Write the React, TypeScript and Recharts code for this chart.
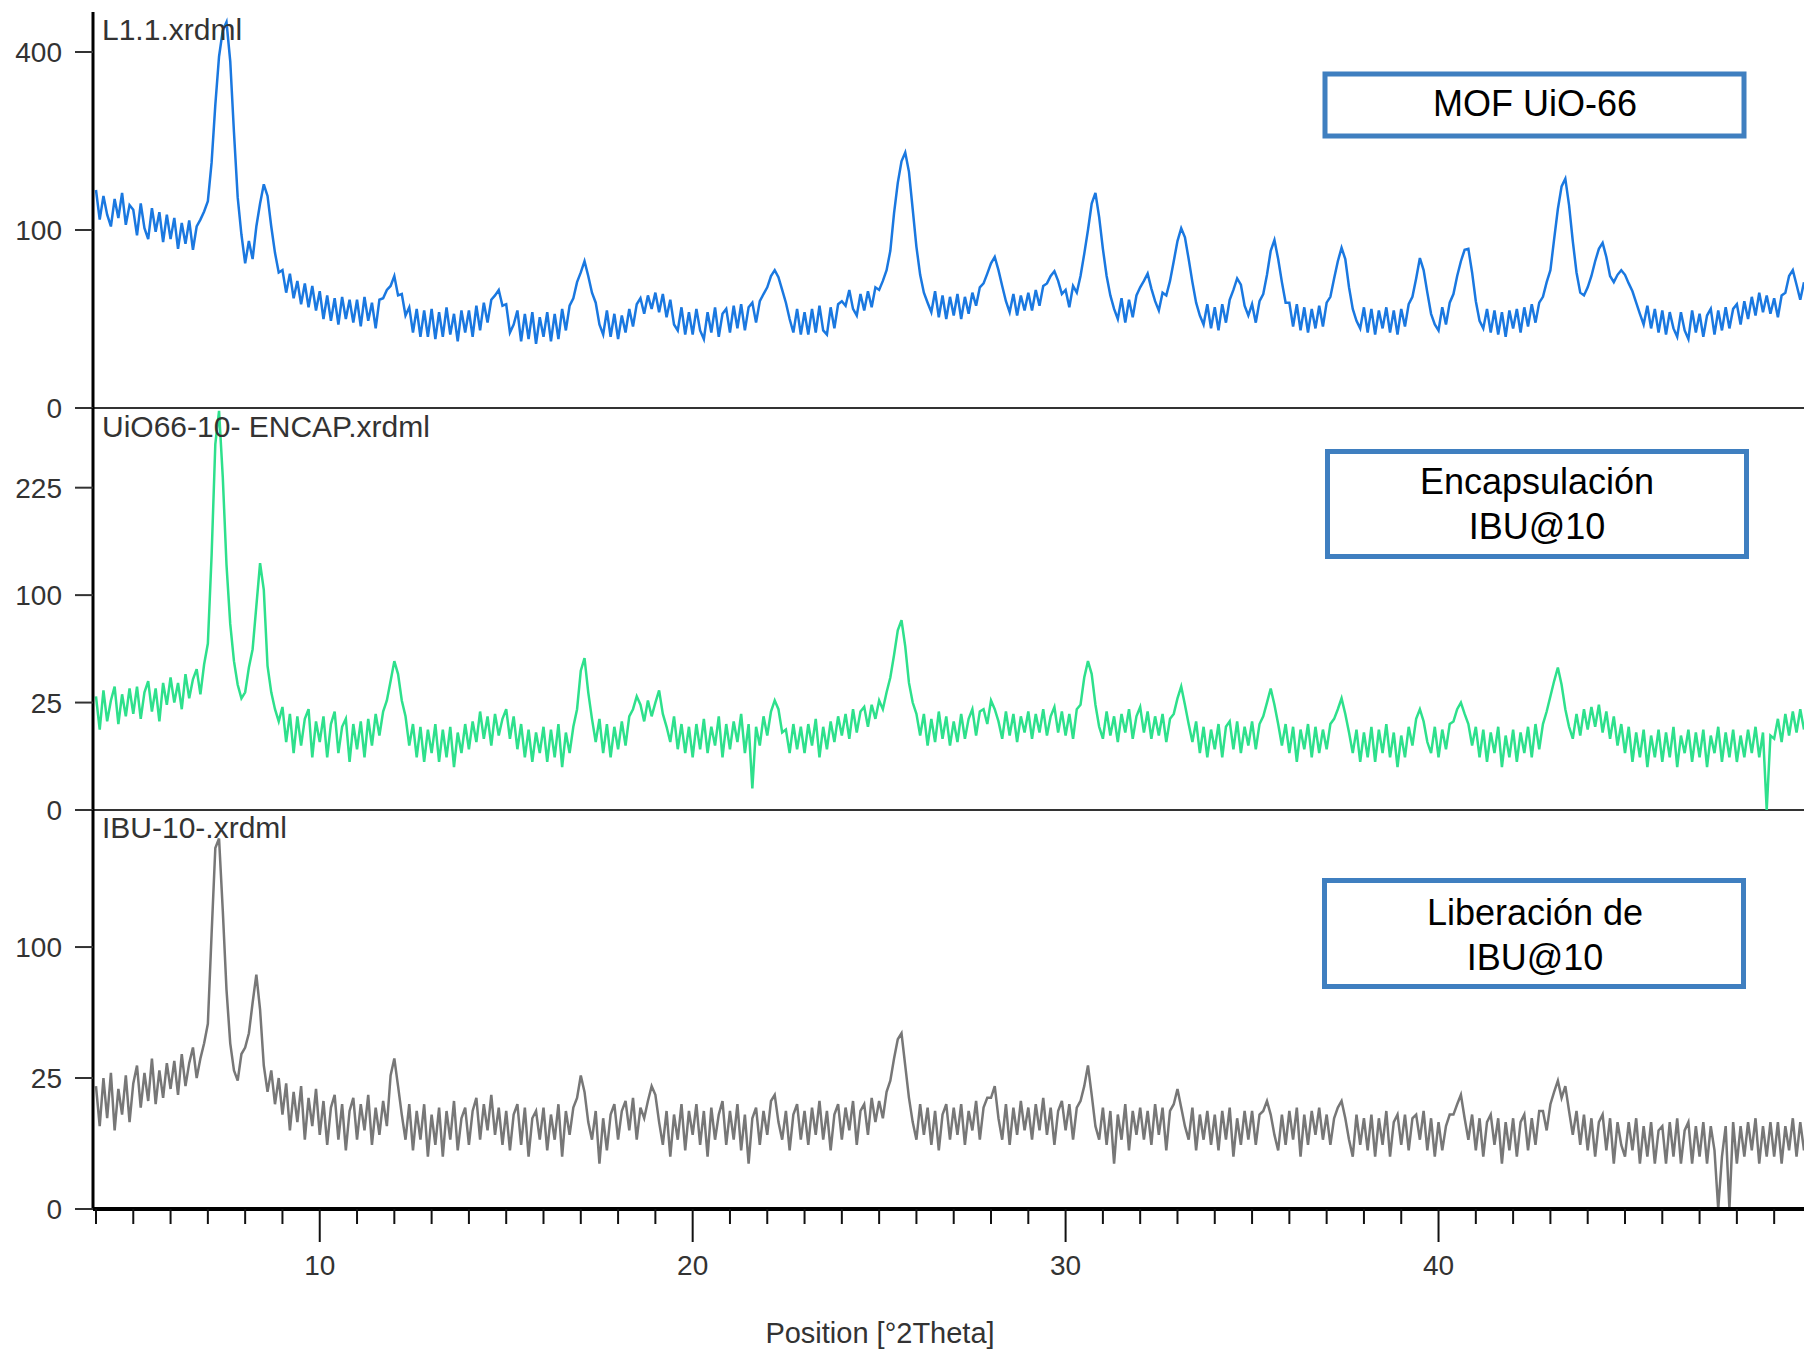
import React from 'react';
import { LineChart, Line, XAxis, YAxis, ReferenceLine } from 'recharts';

// scan settings (fixed step, as exported from the diffractometer)
const START_2THETA = 4.0;
const STEP_2THETA = 0.1;
const X_DOMAIN: [number, number] = [3.92, 49.8];
const X_TICKS = [4, 5, 6, 7, 8, 9, 10, 11, 12, 13, 14, 15, 16, 17, 18, 19, 20, 21, 22, 23, 24, 25, 26, 27, 28, 29, 30, 31, 32, 33, 34, 35, 36, 37, 38, 39, 40, 41, 42, 43, 44, 45, 46, 47, 48, 49];

// counts, one row per degree
const mofCounts = [
  150, 112, 142, 118, 104, 138, 114, 146, 106, 130,
  124, 94, 132, 102, 90, 126, 98, 121, 87, 118,
  90, 114, 80, 108, 85, 111, 79, 104, 112, 122,
  135, 190, 290, 390, 450, 470, 380, 240, 140, 95,
  66, 88, 70, 104, 132, 158, 142, 104, 76, 58,
  60, 42, 57, 38, 51, 34, 49, 32, 47, 30,
  43, 25, 40, 24, 38, 22, 39, 25, 37, 23,
  37, 21, 39, 24, 35, 20, 37, 38, 44, 47,
  55, 40, 41, 27, 32, 18, 31, 16, 30, 16,
  31, 15, 29, 16, 32, 17, 28, 14, 30, 18,
  30, 16, 33, 19, 35, 23, 37, 40, 44, 33,
  34, 18, 22, 30, 14, 28, 15, 29, 13, 26,
  16, 29, 14, 28, 15, 31, 19, 33, 38, 50,
  58, 68, 55, 42, 35, 22, 17, 30, 16, 28,
  15, 27, 18, 31, 21, 34, 38, 28, 40, 31,
  42, 29, 41, 26, 37, 22, 19, 32, 17, 29,
  17, 31, 19, 15, 29, 18, 32, 16, 28, 31,
  18, 33, 20, 34, 19, 32, 35, 23, 36, 41,
  46, 55, 60, 54, 44, 35, 25, 18, 31, 17,
  29, 17, 31, 18, 33, 19, 17, 32, 20, 34,
  36, 33, 44, 31, 27, 41, 30, 43, 32, 46,
  44, 51, 60, 78, 120, 160, 192, 206, 176, 125,
  82, 56, 42, 35, 29, 43, 26, 40, 25, 39,
  27, 41, 25, 39, 28, 42, 33, 46, 49, 57,
  66, 72, 60, 47, 36, 29, 41, 27, 40, 30,
  42, 30, 44, 33, 47, 49, 55, 59, 51, 41,
  44, 32, 47, 42, 55, 75, 100, 132, 146, 115,
  80, 55, 40, 31, 25, 38, 23, 37, 26, 40,
  46, 51, 57, 45, 36, 30, 42, 40, 51, 68,
  88, 102, 92, 70, 50, 35, 27, 22, 34, 20,
  32, 19, 34, 23, 37, 44, 53, 48, 33, 27,
  34, 23, 36, 41, 56, 78, 89, 70, 50, 35,
  35, 21, 34, 19, 32, 18, 31, 20, 33, 21,
  35, 39, 53, 68, 81, 70, 46, 31, 24, 20,
  32, 18, 31, 17, 30, 20, 32, 18, 30, 17,
  31, 21, 34, 39, 53, 71, 60, 42, 28, 22,
  19, 32, 22, 35, 41, 55, 68, 79, 80, 58,
  36, 24, 20, 31, 18, 30, 17, 29, 16, 30,
  20, 31, 18, 32, 21, 34, 23, 35, 39, 50,
  60, 90, 125, 155, 166, 130, 88, 58, 42, 40,
  46, 55, 68, 80, 86, 72, 55, 50, 56, 60,
  56, 49, 43, 35, 28, 22, 33, 20, 31, 18,
  30, 17, 29, 20, 16, 29, 19, 15, 30, 18,
  28, 16, 27, 31, 17, 30, 19, 32, 20, 31,
  34, 22, 36, 25, 39, 27, 42, 29, 40, 28,
  38, 26, 40, 42, 55, 60, 48, 37, 50,
];

const encapCounts = [
  28, 14, 31, 17, 26, 33, 16, 29, 19, 32,
  20, 33, 18, 30, 36, 21, 32, 17, 35, 24,
  38, 25, 35, 22, 40, 27, 37, 43, 29, 46,
  60, 140, 290, 345, 240, 130, 75, 48, 34, 27,
  30, 44, 56, 90, 132, 105, 45, 30, 22, 17,
  23, 10, 20, 7, 19, 9, 18, 22, 6, 17,
  10, 19, 6, 16, 21, 7, 15, 18, 5, 16,
  8, 17, 6, 18, 9, 20, 12, 21, 26, 36,
  48, 40, 26, 19, 9, 16, 6, 15, 5, 14,
  7, 16, 5, 14, 6, 15, 4, 13, 7, 16,
  8, 17, 10, 21, 11, 19, 9, 20, 12, 18,
  22, 11, 19, 8, 16, 6, 14, 5, 13, 7,
  15, 5, 14, 6, 16, 4, 13, 7, 15, 22,
  42, 50, 30, 18, 10, 18, 7, 16, 6, 15,
  8, 17, 9, 19, 22, 28, 24, 17, 26, 19,
  25, 31, 20, 15, 10, 19, 8, 16, 7, 15,
  6, 16, 8, 18, 7, 15, 9, 19, 6, 16,
  8, 17, 10, 20, 7, 16, 1, 15, 9, 19,
  12, 21, 26, 22, 13, 14, 7, 16, 8, 15,
  7, 16, 9, 18, 6, 15, 8, 17, 10, 19,
  12, 20, 11, 22, 13, 21, 23, 15, 24, 18,
  26, 22, 30, 38, 52, 70, 78, 58, 35, 25,
  20, 12, 20, 9, 18, 10, 21, 11, 19, 9,
  17, 10, 20, 11, 18, 22, 12, 21, 22, 16,
  26, 22, 17, 11, 21, 12, 20, 10, 19, 13,
  21, 11, 20, 13, 22, 12, 19, 23, 13, 21,
  12, 20, 11, 22, 24, 38, 48, 40, 24, 15,
  11, 21, 12, 19, 10, 20, 13, 22, 11, 19,
  23, 13, 21, 11, 19, 12, 20, 10, 18, 20,
  27, 33, 24, 16, 10, 17, 7, 15, 6, 14,
  8, 16, 6, 15, 17, 8, 17, 7, 15, 9,
  17, 8, 16, 19, 25, 32, 24, 16, 9, 16,
  7, 15, 5, 14, 8, 16, 6, 15, 7, 14,
  8, 16, 18, 22, 27, 20, 13, 7, 14, 5,
  13, 6, 15, 5, 14, 7, 16, 6, 13, 4,
  12, 6, 15, 9, 18, 22, 17, 10, 7, 15,
  6, 14, 8, 16, 17, 22, 25, 20, 16, 9,
  15, 6, 14, 5, 13, 7, 15, 4, 12, 6,
  14, 5, 13, 7, 15, 6, 16, 8, 16, 21,
  28, 36, 44, 34, 22, 15, 11, 20, 12, 22,
  14, 23, 15, 24, 13, 21, 11, 19, 9, 16,
  7, 15, 5, 13, 6, 14, 4, 12, 6, 14,
  5, 13, 6, 15, 4, 12, 7, 14, 5, 13,
  6, 14, 4, 12, 7, 15, 5, 13, 6, 14,
  5, 12, 6, 14, 7, 15, 6, 13, 0, 12,
  11, 18, 10, 20, 12, 21, 13, 22, 14,
];

const ibuCounts = [
  22, 10, 25, 12, 27, 9, 21, 13, 26, 11,
  23, 30, 15, 27, 17, 33, 16, 28, 18, 31,
  21, 32, 19, 35, 22, 31, 38, 25, 33, 40,
  50, 110, 190, 200, 130, 70, 40, 28, 24, 35,
  38, 45, 62, 80, 58, 30, 20, 28, 16, 25,
  13, 23, 9, 20, 11, 22, 7, 18, 10, 21,
  8, 17, 6, 15, 19, 7, 16, 5, 14, 18,
  7, 16, 9, 19, 6, 15, 8, 17, 10, 26,
  33, 22, 13, 7, 16, 5, 14, 7, 16, 4,
  13, 6, 15, 4, 14, 7, 17, 5, 12, 15,
  6, 14, 18, 7, 16, 9, 19, 8, 15, 6,
  14, 5, 13, 16, 6, 15, 4, 12, 14, 7,
  15, 5, 13, 7, 16, 4, 14, 8, 15, 18,
  26, 20, 11, 7, 14, 3, 12, 5, 13, 16,
  7, 14, 17, 9, 18, 7, 15, 12, 17, 22,
  19, 11, 6, 14, 4, 13, 7, 16, 5, 14,
  8, 16, 6, 14, 4, 15, 7, 13, 17, 6,
  14, 7, 16, 5, 13, 3, 12, 15, 6, 14,
  8, 17, 19, 11, 7, 14, 5, 13, 16, 7,
  14, 6, 15, 8, 17, 7, 14, 5, 13, 16,
  7, 15, 9, 17, 6, 14, 16, 8, 18, 11,
  17, 12, 20, 24, 33, 42, 45, 30, 18, 11,
  7, 16, 8, 15, 6, 14, 5, 13, 16, 7,
  15, 8, 16, 6, 14, 9, 17, 7, 15, 18,
  18, 22, 12, 7, 16, 6, 15, 8, 17, 9,
  15, 7, 16, 9, 18, 8, 15, 6, 14, 17,
  9, 16, 7, 15, 17, 22, 30, 19, 10, 7,
  15, 6, 14, 3, 13, 7, 16, 5, 14, 8,
  15, 7, 14, 6, 16, 8, 15, 5, 14, 16,
  21, 15, 10, 7, 15, 5, 13, 7, 14, 6,
  13, 5, 14, 7, 15, 4, 12, 6, 14, 7,
  14, 6, 13, 14, 17, 13, 8, 5, 13, 6,
  14, 7, 15, 4, 13, 6, 14, 8, 15, 7,
  13, 6, 12, 15, 17, 12, 7, 4, 13, 6,
  12, 5, 13, 4, 12, 6, 14, 4, 11, 13,
  6, 13, 5, 12, 13, 7, 14, 5, 12, 4,
  11, 5, 10, 13, 13, 16, 19, 12, 7, 13,
  5, 12, 4, 11, 13, 6, 12, 3, 11, 5,
  12, 4, 11, 13, 5, 12, 6, 14, 14, 9,
  16, 20, 24, 18, 22, 14, 8, 14, 6, 13,
  5, 12, 4, 11, 13, 5, 12, 3, 11, 6,
  4, 11, 5, 12, 3, 10, 4, 11, 3, 9,
  10, 3, 11, 4, 12, 3, 9, 11, 3, 10,
  4, 11, 3, 10, 5, 0, 4, 10, 0, 11,
  3, 10, 4, 11, 5, 12, 3, 10, 4, 11,
  4, 11, 3, 10, 5, 12, 4, 11, 5,
];

// per-panel y ranges and tick labels (sqrt intensity scale)
const mofDomain: [number, number] = [0, 495];
const mofTicks = [0, 100, 400];
const encapDomain: [number, number] = [0, 350];
const encapTicks = [0, 25, 100, 225];
const ibuDomain: [number, number] = [0, 232];
const ibuTicks = [0, 25, 100];

const FONT = "'Liberation Sans', Arial, sans-serif";
const W = 1804;

const data = mofCounts.map((v, i) => ({
  x: +(START_2THETA + i * STEP_2THETA).toFixed(2),
  mof: v,
  encap: encapCounts[i],
  ibu: ibuCounts[i],
}));

const yTick = { fill: '#333', fontSize: 28, fontFamily: FONT };

function PosTick(props: any) {
  const { x, y, payload } = props;
  const major = payload.value % 10 === 0;
  return (
    <g>
      <line x1={x} x2={x} y1={y} y2={y + (major ? 33 : 15)} stroke="#111" strokeWidth={2} />
      {major && (
        <text x={x} y={y + 66} textAnchor="middle" fontSize={28} fill="#333" fontFamily={FONT}>
          {payload.value}
        </text>
      )}
    </g>
  );
}

function YAx({ domain, ticks }: { domain: [number, number]; ticks: number[] }) {
  return (
    <YAxis
      type="number"
      scale="sqrt"
      domain={domain}
      ticks={ticks}
      interval={0}
      allowDataOverflow
      width={93}
      tickSize={18}
      tickMargin={13}
      tick={yTick}
      tickLine={{ stroke: '#333', strokeWidth: 2 }}
      axisLine={{ stroke: '#000', strokeWidth: 3 }}
    />
  );
}

export default function App() {
  return (
    <div style={{ position: 'absolute', left: 0, top: 0, width: W, height: 1350, overflow: 'hidden', background: '#fff', fontFamily: FONT }}>
      {/* MOF UiO-66 */}
      <div style={{ position: 'absolute', left: 0, top: 2 }}>
        <LineChart width={W} height={426} data={data} margin={{ top: 10, right: 0, bottom: 20, left: 0 }}>
          <XAxis type="number" dataKey="x" domain={X_DOMAIN} allowDataOverflow orientation="top" height={0}
            tick={false} tickLine={false} axisLine={{ stroke: '#000', strokeWidth: 4 }} />
          {YAx({ domain: mofDomain, ticks: mofTicks })}
          <ReferenceLine y={0} stroke="#333" strokeWidth={2} />
          <Line type="linear" dataKey="mof" stroke="#1a78e0" strokeWidth={2.5} dot={false} isAnimationActive={false} />
        </LineChart>
      </div>

      {/* Encapsulación */}
      <div style={{ position: 'absolute', left: 0, top: 398 }}>
        <LineChart width={W} height={432} data={data} margin={{ top: 10, right: 0, bottom: 20, left: 0 }}>
          <XAxis type="number" dataKey="x" domain={X_DOMAIN} allowDataOverflow hide />
          {YAx({ domain: encapDomain, ticks: encapTicks })}
          <ReferenceLine y={0} stroke="#333" strokeWidth={2} />
          <Line type="linear" dataKey="encap" stroke="#2ee08c" strokeWidth={2.5} dot={false} isAnimationActive={false} />
        </LineChart>
      </div>

      {/* Liberación */}
      <div style={{ position: 'absolute', left: 0, top: 800 }}>
        <LineChart width={W} height={550} data={data} margin={{ top: 10, right: 0, bottom: 0, left: 0 }}>
          <XAxis type="number" dataKey="x" domain={X_DOMAIN} allowDataOverflow ticks={X_TICKS} interval={0}
            height={141} tickSize={0} tickMargin={0} tickLine={false} tick={<PosTick />}
            axisLine={{ stroke: '#000', strokeWidth: 4 }} />
          {YAx({ domain: ibuDomain, ticks: ibuTicks })}
          <Line type="linear" dataKey="ibu" stroke="#777" strokeWidth={2.5} dot={false} isAnimationActive={false} />
        </LineChart>
      </div>

      {/* annotations */}
      <svg width={W} height={1350} style={{ position: 'absolute', left: 0, top: 0, pointerEvents: 'none' }} fontFamily={FONT}>
        <text x={102} y={40} fontSize={30} fill="#333">L1.1.xrdml</text>
        <text x={102} y={437} fontSize={30} fill="#333">UiO66-10- ENCAP.xrdml</text>
        <text x={102} y={838} fontSize={30} fill="#333">IBU-10-.xrdml</text>

        <rect x={1325} y={74} width={419} height={62} fill="#fff" stroke="#3f7fc0" strokeWidth={5} />
        <text x={1535} y={116} fontSize={36} textAnchor="middle" fill="#000">MOF UiO-66</text>

        <rect x={1327.5} y={451.5} width={419} height={105} fill="#fff" stroke="#3f7fc0" strokeWidth={5} />
        <text x={1537} y={494} fontSize={36} textAnchor="middle" fill="#000">Encapsulación</text>
        <text x={1537} y={539} fontSize={36} textAnchor="middle" fill="#000">IBU@10</text>

        <rect x={1324.5} y={880.5} width={419} height={106} fill="#fff" stroke="#3f7fc0" strokeWidth={5} />
        <text x={1535} y={925} fontSize={36} textAnchor="middle" fill="#000">Liberación de</text>
        <text x={1535} y={970} fontSize={36} textAnchor="middle" fill="#000">IBU@10</text>

        <text x={880} y={1343} fontSize={29} textAnchor="middle" fill="#333">Position [°2Theta]</text>
      </svg>
    </div>
  );
}
